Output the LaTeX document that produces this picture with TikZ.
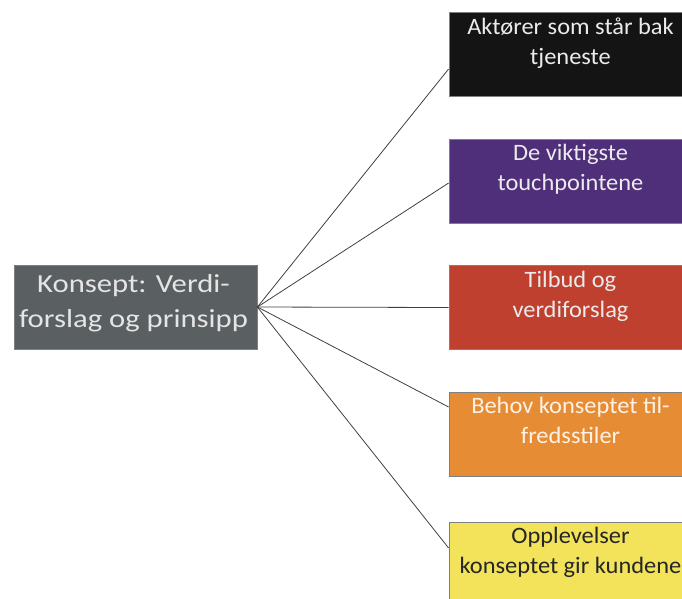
\documentclass[tikz,border=0pt]{standalone}
\usepackage{fontspec}
\setmainfont{Carlito}
\newfontfamily\hubfont[FakeStretch=1.18]{Carlito}
\newfontfamily\leaffont[FakeStretch=1.04]{Carlito}
\usetikzlibrary{calc}
\definecolor{hubgray}{HTML}{5A6062}
\definecolor{boxblack}{HTML}{141414}
\definecolor{boxpurple}{HTML}{4F2E7A}
\definecolor{boxred}{HTML}{C0402F}
\definecolor{boxorange}{HTML}{E68C35}
\definecolor{boxyellow}{HTML}{F2E35A}
\definecolor{edgegray}{HTML}{808080}
\definecolor{linkgray}{HTML}{404040}
\tikzset{
  panel/.style={rectangle, draw=edgegray, line width=0.8pt, minimum width=243pt,
    minimum height=84pt, inner sep=0pt},
  hubtext/.style={align=center, inner sep=0pt, text=white!90!black,
    font=\hubfont\fontsize{26}{35}\selectfont},
  leaftext/.style={align=center, inner sep=0pt, anchor=north, yshift=-1pt,
    font=\leaffont\fontsize{23.5}{30}\selectfont},
  link/.style={draw=linkgray, line width=0.8pt}
}
\begin{document}
\begin{tikzpicture}[x=1pt, y=-1pt]
\useasboundingbox (0,0) rectangle (682,598);
\clip (0,0) rectangle (682,598);

% central concept box
\node[panel, fill=hubgray] (hub) at (135.5,307) {};
\node[hubtext, yshift=4pt, xshift=-2pt] (hubt) at (hub.center) {Konsept: Verdi-\\forslag og prinsipp};

% the five aspect boxes
\node[panel, fill=boxblack]  (b1) at (570.5,54.5) {};
\node[panel, fill=boxpurple] (b2) at (570.5,181) {};
\node[panel, fill=boxred]    (b3) at (570.5,307.5) {};
\node[panel, fill=boxorange] (b4) at (570.5,434) {};
\node[panel, fill=boxyellow] (b5) at (570.5,564) {};

\node[leaftext, text=white!92!black] (t1) at (b1.north) {\strut Aktører som står bak\\tjeneste};
\node[leaftext, text=white!92!black] (t2) at (b2.north) {\strut De viktigste\\touchpointene};
\node[leaftext, text=white!92!black] (t3) at (b3.north) {\strut Tilbud og\\verdiforslag};
\node[leaftext, text=white!90!orange] (t4) at (b4.north) {\strut Behov konseptet til-\\fredsstiler};
\node[leaftext, text=black!85] (t5) at (b5.north) {\strut Opplevelser\\konseptet gir kundene};

% connectors from the concept to each aspect
\draw[link] (hub.east) -- ([yshift=-14.5pt]b1.west);
\draw[link] (hub.east) -- ([yshift=-2pt]b2.west);
\draw[link] (hub.east) -- (b3.west);
\draw[link] (hub.east) -- ([yshift=27pt]b4.west);
\draw[link] (hub.east) -- ([yshift=16pt]b5.west);
\end{tikzpicture}
\end{document}
